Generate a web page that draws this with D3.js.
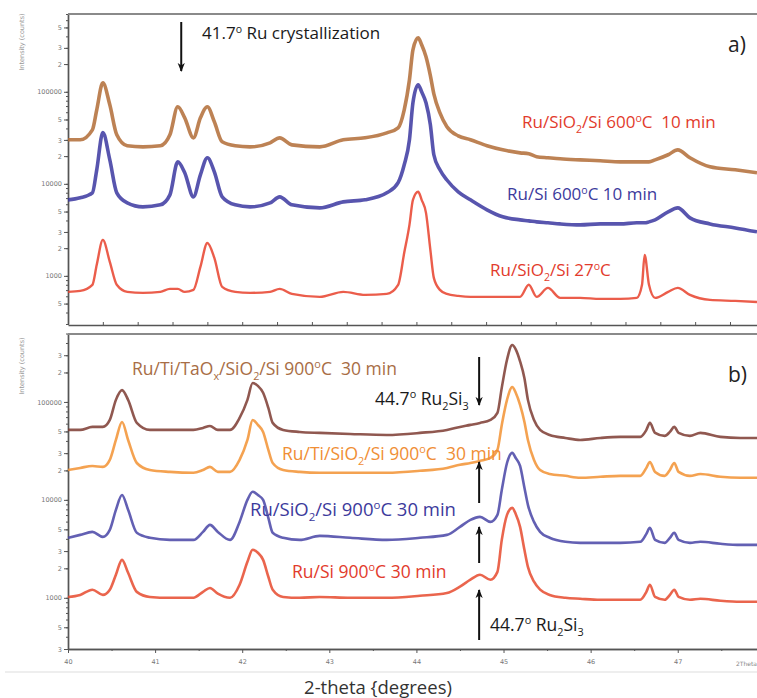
<!DOCTYPE html>
<html>
<head>
<meta charset="utf-8">
<script src="https://cdnjs.cloudflare.com/ajax/libs/d3/7.8.5/d3.min.js"></script>
<style>
body { margin: 0; background: #fff; }
svg { display: block; font-family: "Open Sans", "Noto Sans", sans-serif; }
.axis path, .axis line { stroke: #555; }
.axis text { fill: #777; font-size: 6.5px; font-family: "DejaVu Sans", sans-serif; }
</style>
</head>
<body>
<script>
// panel a) 2-theta grid and intensities (counts)
const twoThetaA = [40.00,40.14,40.28,40.33,40.40,40.48,40.56,40.68,40.86,41.06,
  41.17,41.26,41.34,41.44,41.52,41.60,41.68,41.77,41.92,42.09,
  42.32,42.43,42.57,42.89,43.16,43.41,43.66,43.79,43.86,43.92,
  43.96,44.02,44.06,44.11,44.16,44.20,44.27,44.35,44.48,44.62,
  44.81,44.99,45.19,45.29,45.38,45.51,45.65,45.88,46.11,46.34,
  46.53,46.59,46.62,46.67,46.74,46.89,47.00,47.14,47.37,47.66,47.91];

const ruSiO2Si600 = [30100,30100,38600,63700,125000,72200,34100,25900,25200,25900,
  34100,68700,52100,31600,52100,68700,47200,28600,25900,25200,
  27900,31600,26500,25200,30100,31600,35800,40600,63700,135000,
  286000,386000,324000,240000,150000,95000,59100,41700,33200,30100,
  25900,23400,21700,21200,19700,19200,18700,18200,17800,17300,
  17300,17300,17300,17300,18200,20700,23400,19200,15300,14200,13200];

const ruSi600 = [6700,7050,7980,14200,36000,18200,7980,6210,5620,5910,
  7590,17300,13200,7220,12500,19200,13500,7220,5910,5620,
  6210,7220,5910,5480,6370,6700,7980,10300,16100,30100,
  75900,119000,100000,75900,43800,20700,14200,11000,8190,6700,
  5220,4380,4060,3960,3860,3770,3670,3580,3670,3670,
  3770,3770,3770,3860,4060,4960,5480,4270,3670,3320,3010];

const ruSiO2Si27 = [670,687,800,1320,2460,1420,800,670,653,670,
  722,722,670,705,1250,2280,1570,760,670,653,
  670,722,637,591,670,621,637,800,1780,3580,
  6700,8190,6700,4840,1920,951,705,637,606,591,
  591,591,591,800,591,740,577,577,562,562,
  577,800,1690,800,577,670,740,621,548,535,521];

// panel b) 2-theta grid and intensities (counts)
const twoThetaB = [40.00,40.14,40.28,40.40,40.48,40.55,40.62,40.69,40.79,40.94,
  41.17,41.44,41.55,41.63,41.72,41.86,41.97,42.06,42.12,42.18,
  42.24,42.30,42.35,42.47,42.66,42.89,43.24,43.66,44.04,44.35,
  44.50,44.62,44.73,44.85,44.93,44.98,45.04,45.10,45.14,45.19,
  45.24,45.28,45.35,45.42,45.53,45.71,45.88,46.11,46.34,46.57,
  46.64,46.68,46.74,46.85,46.91,46.96,47.01,47.14,47.26,47.49,47.72,47.91];

const ruTiTaOx900 = [51800,51800,55600,55600,65500,105000,132000,105000,61100,51800,
  51800,51800,54300,56900,51800,51800,68700,105000,156000,146000,
  124000,86900,61100,51800,49400,48300,47100,46000,48300,51800,
  55600,58300,61100,65500,77300,140000,270000,382000,345000,260000,
  175000,105000,65500,51800,46000,42900,40900,42900,44000,44000,
  51800,61100,48300,45000,49400,55600,48300,45000,48300,44000,42900,42900];

const ruTiSiO2900 = [20200,21200,22200,21700,25600,40900,62500,40900,23800,20200,
  19300,18900,20200,21700,19300,19300,25600,40900,65500,58300,
  49400,32400,23800,20200,19300,18900,18900,18900,19800,21200,
  22800,23800,25000,26800,32400,58300,105000,142000,124000,93200,
  62500,40900,25600,20200,18400,17600,16800,17200,17600,17600,
  21200,24400,19300,17600,20200,23800,19300,17600,18400,17200,16800,16800];

const ruSiO2Si900 = [4100,4390,4710,4190,4940,7910,11200,7910,4610,4100,
  3900,3900,4710,5560,4710,3900,5960,10000,12100,11200,
  10000,6550,4610,4100,3900,4290,4100,3900,4100,4390,
  5300,6250,6710,5960,7030,12600,23800,30200,26800,22200,
  13300,8890,5960,4710,4100,3730,3640,3640,3640,3730,
  4500,5180,3900,3640,4100,4610,3900,3640,3730,3560,3470,3470];

const ruSi900 = [1020,1070,1210,1070,1210,1720,2440,1800,1150,1020,
  1000,1000,1150,1260,1100,1000,1360,2330,3090,2880,
  2440,1640,1210,1020,1000,1020,1000,1000,1050,1120,
  1300,1530,1720,1530,1840,3900,7030,8280,7190,5300,
  3090,2070,1460,1210,1070,1000,977,954,954,954,
  1150,1360,1020,954,1070,1210,1020,954,977,932,910,910];

const yLabelTicksA = [500,1000,2000,3000,5000,10000,20000,30000,50000,100000,200000,300000,500000];
const yLabelTicksB = [300,500,1000,2000,3000,5000,10000,20000,30000,50000,100000,200000,300000];
const xLabelTicksB = [40,41,42,43,44,45,46,47];

const W = 757, H = 698;
const svg = d3.select("body").append("svg").attr("width", W).attr("height", H);

const x = d3.scaleLinear().domain([40, 47.91]).range([68, 757]);
const yA = d3.scaleLog().domain([300, 700000]).range([324, 14]);
const yB = d3.scaleLog().domain([300, 500000]).range([649, 333.5]);

// every 1..9 x decade inside a domain, for minor ticks
function minorTicks(dom) {
  const out = [];
  for (let p = 100; p <= 1000000; p *= 10)
    for (let k = 1; k <= 9; k++) {
      const v = k * p;
      if (v >= dom[0] && v <= dom[1]) out.push(v);
    }
  return out;
}
const fmtY = d => (Math.log10(d) % 1 === 0) ? d : String(d).charAt(0);

function drawYAxis(y, labels) {
  svg.append("g").attr("class", "axis").attr("transform", "translate(68,0)")
    .call(d3.axisLeft(y).tickValues(minorTicks(y.domain())).tickFormat("").tickSize(2).tickSizeOuter(0));
  svg.append("g").attr("class", "axis").attr("transform", "translate(68,0)")
    .call(d3.axisLeft(y).tickValues(labels).tickFormat(fmtY).tickSize(4).tickSizeOuter(0))
    .call(g => g.selectAll("text").attr("x", -6));
}
drawYAxis(yA, yLabelTicksA);
drawYAxis(yB, yLabelTicksB);

// panel a bottom axis, ticks only
svg.append("g").attr("class", "axis").attr("transform", "translate(0,325)")
  .call(d3.axisTop(x).tickValues(d3.range(40, 47.9, 0.4)).tickFormat("").tickSize(3).tickSizeOuter(0));

// panel b bottom axis
svg.append("g").attr("class", "axis").attr("transform", "translate(0,649)")
  .call(d3.axisBottom(x).tickValues(d3.range(40.5, 47.9, 1)).tickFormat("").tickSize(2).tickSizeOuter(0));
svg.append("g").attr("class", "axis").attr("transform", "translate(0,649)")
  .call(d3.axisBottom(x).tickValues(xLabelTicksB).tickFormat(d3.format("d")).tickSize(4).tickSizeOuter(0))
  .call(g => g.selectAll("text").attr("y", 10));
svg.selectAll(".axis path.domain").attr("stroke-width", 1.4);

// top frame lines
[14, 334].forEach(yy => svg.append("line").attr("x1", 68).attr("x2", W).attr("y1", yy).attr("y2", yy)
  .attr("stroke", "#8a8a8a").attr("stroke-width", 2));

// axis captions
[42, 366].forEach(cy =>
  svg.append("text").attr("transform", `translate(24,${cy}) rotate(-90)`).attr("text-anchor", "middle")
    .attr("font-size", 6.5).attr("font-family", "DejaVu Sans, sans-serif").attr("fill", "#999")
    .text("Intensity (counts)"));
svg.append("text").attr("x", 736).attr("y", 666).attr("font-size", 6).attr("font-family", "DejaVu Sans, sans-serif")
  .attr("fill", "#888").text("2Theta");

// traces: one wide, slightly see-through stroke stands in for the counting noise
function trace(theta, vals, y, color, width) {
  const line = d3.line().x((d, i) => x(theta[i])).y(d => y(d)).curve(d3.curveMonotoneX);
  svg.append("path").datum(vals).attr("d", line).attr("fill", "none")
    .attr("stroke", color).attr("stroke-width", width).attr("stroke-opacity", 0.85)
    .attr("stroke-linejoin", "round");
}
trace(twoThetaA, ruSiO2Si600, yA, "#b26c36", 3.6);
trace(twoThetaA, ruSi600, yA, "#3b37a0", 3.6);
trace(twoThetaA, ruSiO2Si27, yA, "#e8412b", 2.4);
trace(twoThetaB, ruTiTaOx900, yB, "#7d3b31", 2.6);
trace(twoThetaB, ruTiSiO2900, yB, "#f29233", 2.6);
trace(twoThetaB, ruSiO2Si900, yB, "#4844a6", 2.6);
trace(twoThetaB, ruSi900, yB, "#e64a2e", 2.6);

// labels with sub/superscripts
function richText(parts, px, py, size, color) {
  const t = svg.append("text").attr("x", px).attr("y", py).attr("font-size", size)
    .attr("fill", color).style("white-space", "pre");
  let shift = 0;
  parts.forEach(p => {
    const [txt, kind] = typeof p === "string" ? [p, null] : p;
    const target = kind === "sub" ? size * 0.28 : kind === "sup" ? -size * 0.38 : 0;
    const ts = t.append("tspan").attr("dy", target - shift).text(txt);
    if (kind) ts.attr("font-size", size * 0.62);
    shift = target;
  });
}
const DEG = ["o", "sup"];
richText(["41.7", DEG, " Ru crystallization"], 202, 39, 17, "#1a1a1a");
richText(["a)"], 728, 52, 21, "#222");
richText(["b)"], 728, 382, 21, "#222");
richText(["Ru/SiO", ["2", "sub"], "/Si 600", DEG, "C  10 min"], 522, 128, 17, "#e23b2c");
richText(["Ru/Si 600", DEG, "C 10 min"], 507, 200, 17, "#3c3a9c");
richText(["Ru/SiO", ["2", "sub"], "/Si 27", DEG, "C"], 490, 276, 17, "#e23b2c");
richText(["Ru/Ti/TaO", ["x", "sub"], "/SiO", ["2", "sub"], "/Si 900", DEG, "C  30 min"], 132, 375, 17.5, "#a86d45");
richText(["44.7", DEG, " Ru", ["2", "sub"], "Si", ["3", "sub"]], 375, 405, 17.5, "#1a1a1a");
richText(["Ru/Ti/SiO", ["2", "sub"], "/Si 900", DEG, "C  30 min"], 282, 460, 17.5, "#f08e35");
richText(["Ru/SiO", ["2", "sub"], "/Si 900", DEG, "C 30 min"], 250, 516, 18.5, "#3c3a9c");
richText(["Ru/Si 900", DEG, "C 30 min"], 292, 578, 17.5, "#e23b2c");
richText(["44.7", DEG, " Ru", ["2", "sub"], "Si", ["3", "sub"]], 490, 631, 17.5, "#1a1a1a");

// arrows
svg.append("defs").append("marker").attr("id", "head").attr("viewBox", "0 0 10 10")
  .attr("refX", 9).attr("refY", 5).attr("markerWidth", 9).attr("markerHeight", 9)
  .attr("markerUnits", "userSpaceOnUse").attr("orient", "auto")
  .append("path").attr("d", "M0,1 L10,5 L0,9 L3,5 Z").attr("fill", "#111");
const arrows = [[x(41.3), 22, 71], [x(44.72), 357, 405], [x(44.72), 503, 462],
  [x(44.72), 563, 527], [x(44.72), 640, 590]];
arrows.forEach(([ax, y1, y2]) => svg.append("line").attr("x1", ax).attr("x2", ax).attr("y1", y1).attr("y2", y2)
  .attr("stroke", "#111").attr("stroke-width", 2).attr("marker-end", "url(#head)"));

// separator and title
svg.append("line").attr("x1", 5).attr("x2", W).attr("y1", 672).attr("y2", 672).attr("stroke", "#ddd");
svg.append("text").attr("x", 378).attr("y", 694).attr("text-anchor", "middle")
  .attr("font-size", 18.5).attr("fill", "#333").text("2-theta {degrees)");
</script>
</body>
</html>
